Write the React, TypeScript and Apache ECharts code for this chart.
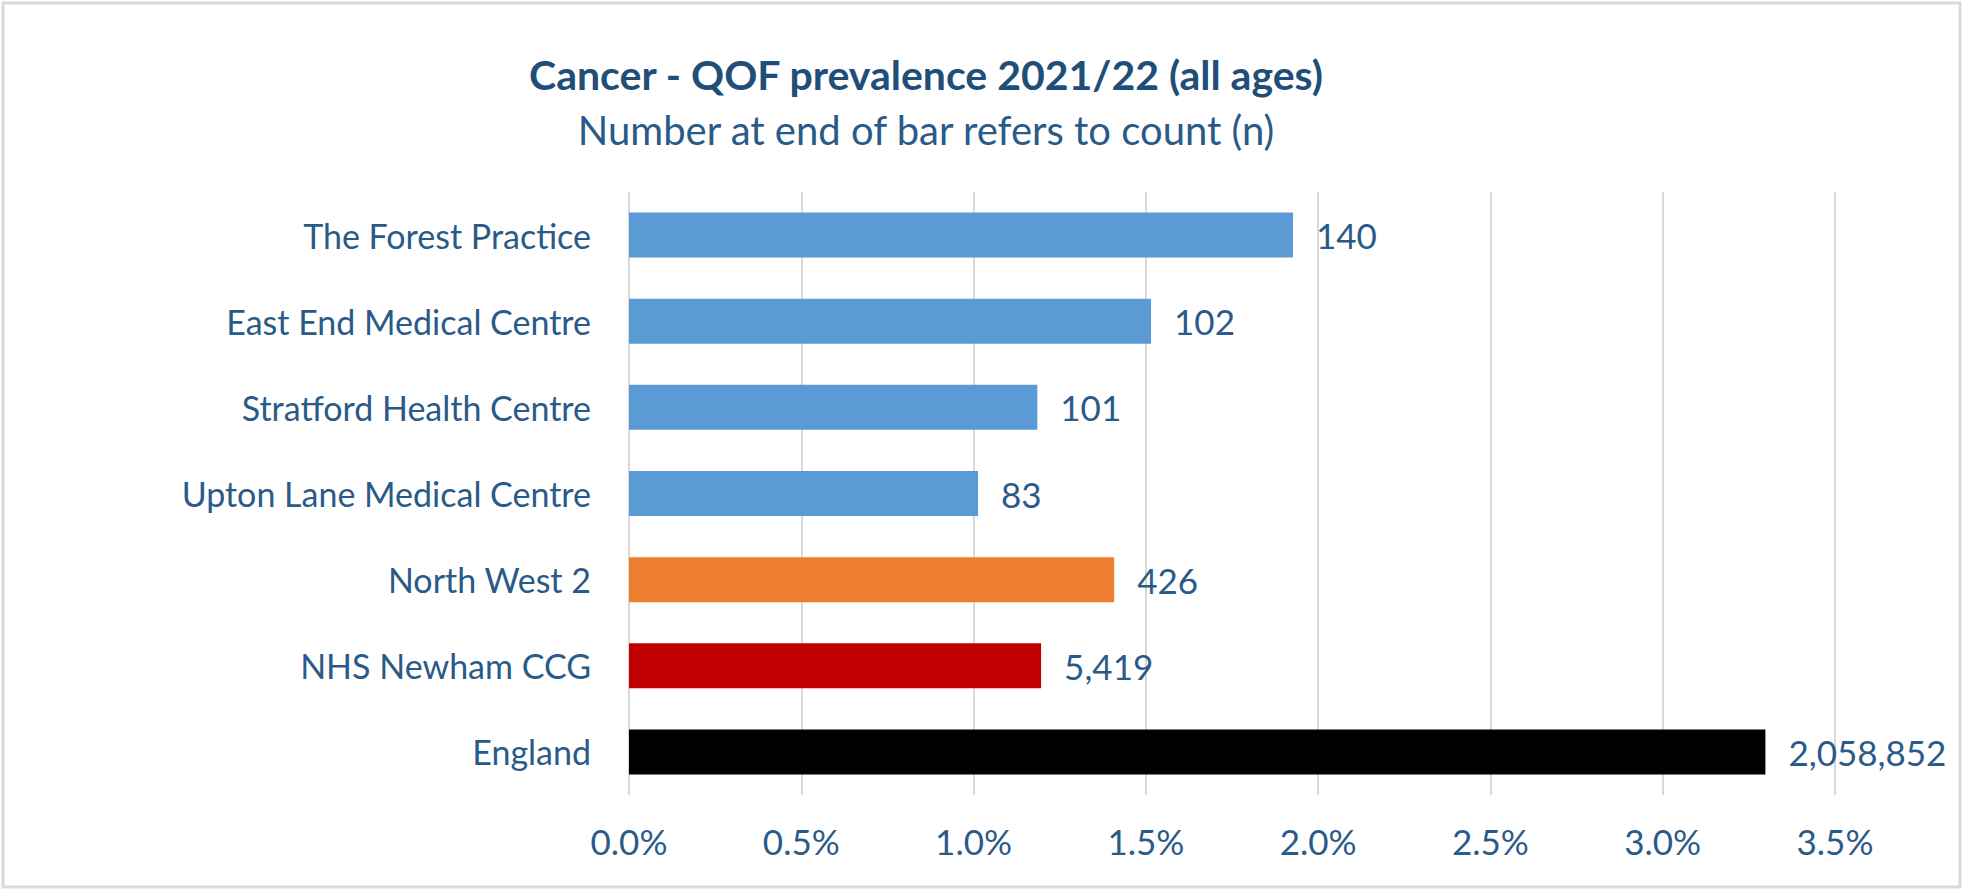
import React, { useEffect, useRef } from "react";
import * as echarts from "echarts";

const categories = [
  "The Forest Practice",
  "East End Medical Centre",
  "Stratford Health Centre",
  "Upton Lane Medical Centre",
  "North West 2",
  "NHS Newham CCG",
  "England",
];
const prevalence = [1.927, 1.515, 1.185, 1.013, 1.408, 1.196, 3.298];
const counts = [140, 102, 101, 83, 426, 5419, 2058852];
const barColors = ["#5B9BD5", "#5B9BD5", "#5B9BD5", "#5B9BD5", "#ED7D31", "#C00000", "#000000"];
const titleText = "Cancer - QOF prevalence 2021/22 (all ages)";
const subtitleText = "Number at end of bar refers to count (n)";

const FONT = "Lato, 'Noto Sans', sans-serif";
const TEXT = "#2A5A88";

export default function App() {
  const ref = useRef<HTMLDivElement>(null);
  useEffect(() => {
    if (!ref.current) return;
    const chart = echarts.init(ref.current, null, { renderer: "svg" });
    chart.setOption({
      animation: false,
      backgroundColor: "#ffffff",
      textStyle: { fontFamily: FONT },
      title: [
        {
          text: titleText,
          left: 921,
          top: 49,
          textAlign: "center",
          textStyle: { fontFamily: FONT, fontWeight: "bold", fontSize: 41, color: "#1F4E79" },
        },
        {
          text: subtitleText,
          left: 921,
          top: 105,
          textAlign: "center",
          textStyle: { fontFamily: FONT, fontWeight: "normal", fontSize: 40, color: TEXT },
        },
      ],
      graphic: [
        {
          type: "rect",
          shape: { x: 3, y: 3, width: 1957, height: 884 },
          style: { fill: "none", stroke: "#D9D9D9", lineWidth: 3 },
          silent: true,
        },
      ],
      grid: { left: 629, right: 129, top: 192, bottom: 94, containLabel: false },
      xAxis: {
        type: "value",
        min: 0,
        max: 3.5,
        interval: 0.5,
        axisLine: { show: false },
        axisTick: { show: false },
        splitLine: { show: true, lineStyle: { color: "#D9D9D9", width: 2 } },
        axisLabel: {
          margin: 28,
          fontSize: 35,
          fontFamily: FONT,
          color: TEXT,
          formatter: (v: number) => v.toFixed(1) + "%",
        },
      },
      yAxis: {
        type: "category",
        inverse: true,
        data: categories,
        axisLine: { show: false },
        axisTick: { show: false },
        axisLabel: { margin: 38, fontSize: 34, fontFamily: FONT, color: TEXT },
      },
      series: [
        {
          type: "bar",
          barWidth: 45,
          data: prevalence.map((v, i) => ({ value: v, itemStyle: { color: barColors[i] } })),
          label: {
            show: true,
            position: "right",
            distance: 23,
            fontSize: 35,
            fontFamily: FONT,
            color: TEXT,
            formatter: (p: any) => counts[p.dataIndex].toLocaleString("en-GB"),
          },
        },
      ],
    });
    return () => chart.dispose();
  }, []);
  return (
    <div
      ref={ref}
      style={{ position: "fixed", left: 0, top: 0, width: 1964, height: 889 }}
    />
  );
}
